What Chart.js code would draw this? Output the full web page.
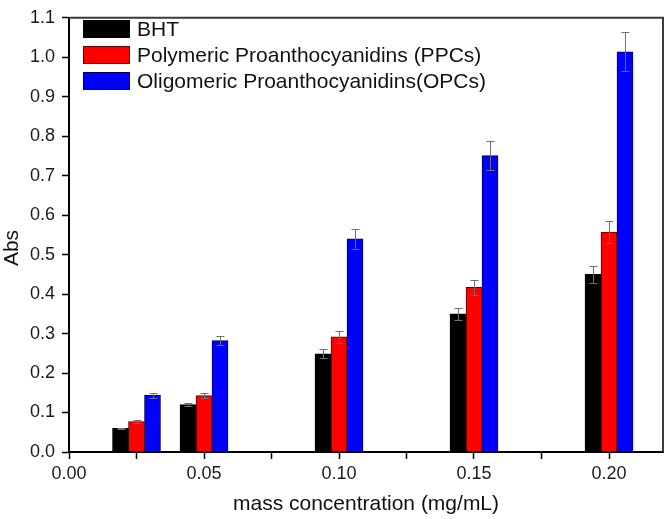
<!DOCTYPE html>
<html>
<head>
<meta charset="utf-8">
<script src="https://cdn.jsdelivr.net/npm/chart.js@4.4.0/dist/chart.umd.min.js"></script>
<style>
  html, body { margin: 0; padding: 0; background: #fff; }
  #wrap { width: 666px; height: 519px; position: relative; }
</style>
</head>
<body>
<div id="wrap"><canvas id="abs-chart"></canvas></div>
<script>
// mass concentration (mg/mL) of each group
const concentrations = [0.025, 0.05, 0.10, 0.15, 0.20];
const seriesNames = ['BHT', 'Polymeric Proanthocyanidins (PPCs)', 'Oligomeric Proanthocyanidins(OPCs)'];

const bhtValues = [0.060, 0.120, 0.249, 0.350, 0.450];
const ppcValues = [0.077, 0.143, 0.292, 0.417, 0.557];
const opcValues = [0.144, 0.282, 0.540, 0.751, 1.014];

const bhtErrors = [0.002, 0.004, 0.012, 0.016, 0.021];
const ppcErrors = [0.003, 0.007, 0.015, 0.020, 0.028];
const opcErrors = [0.006, 0.012, 0.026, 0.036, 0.050];

const xMajorTicks = [0, 0.05, 0.10, 0.15, 0.20];
const xMinorTicks = [0.025, 0.075, 0.125, 0.175];

const FONT = "'Liberation Sans', Arial, sans-serif";

function points(values) {
    return concentrations.map((x, i) => ({ x: x, y: values[i] }));
}

const errorBars = {
    id: 'errorBars',
    afterDatasetsDraw(chart) {
        const ctx = chart.ctx;
        const y = chart.scales.y;
        ctx.save();
        ctx.strokeStyle = '#707070';
        ctx.lineWidth = 1;
        chart.data.datasets.forEach((ds, di) => {
            chart.getDatasetMeta(di).data.forEach((bar, i) => {
                const v = ds.data[i].y, e = ds.errors[i];
                const top = Math.round(y.getPixelForValue(v + e)) + 0.5;
                const bot = Math.round(y.getPixelForValue(v - e)) + 0.5;
                const cx = Math.round(bar.x) + 0.5;
                ctx.beginPath();
                ctx.moveTo(cx, top); ctx.lineTo(cx, bot);
                ctx.moveTo(cx - 4, top); ctx.lineTo(cx + 4, top);
                ctx.moveTo(cx - 4, bot); ctx.lineTo(cx + 4, bot);
                ctx.stroke();
            });
        });
        ctx.restore();
    }
};

const frameAndLabels = {
    id: 'frameAndLabels',
    afterDraw(chart) {
        const ctx = chart.ctx;
        const a = chart.chartArea;
        ctx.save();
        // top and right frame lines
        ctx.strokeStyle = '#3a3a3a';
        ctx.lineWidth = 2;
        ctx.beginPath();
        ctx.moveTo(a.left, a.top); ctx.lineTo(a.right, a.top); ctx.lineTo(a.right, a.bottom);
        ctx.stroke();

        // y axis title
        ctx.fillStyle = '#111';
        ctx.font = '21px ' + FONT;
        ctx.textAlign = 'center';
        ctx.textBaseline = 'middle';
        ctx.translate(12, 248);
        ctx.rotate(-Math.PI / 2);
        ctx.fillText('Abs', 0, 0);
        ctx.restore();

        // legend
        ctx.save();
        ctx.font = '21px ' + FONT;
        ctx.textAlign = 'left';
        ctx.textBaseline = 'middle';
        chart.data.datasets.forEach((ds, i) => {
            const cy = 29 + i * 26;
            ctx.fillStyle = ds.backgroundColor;
            ctx.fillRect(83, cy - 9, 47, 18);
            ctx.strokeStyle = ds.borderColor;
            ctx.lineWidth = 1;
            ctx.strokeRect(83.5, cy - 8.5, 46, 17);
            ctx.fillStyle = '#111';
            ctx.fillText(ds.label, 137, cy + 1);
        });
        ctx.restore();
    }
};

const ctx = document.getElementById('abs-chart').getContext('2d');
const chart = new Chart(ctx, {
    type: 'bar',
    data: {
        datasets: [
            { label: seriesNames[0], data: points(bhtValues), errors: bhtErrors,
              backgroundColor: '#000000', borderColor: '#000000' },
            { label: seriesNames[1], data: points(ppcValues), errors: ppcErrors,
              backgroundColor: '#ff0000', borderColor: '#5a0000' },
            { label: seriesNames[2], data: points(opcValues), errors: opcErrors,
              backgroundColor: '#0000ff', borderColor: '#00005a' }
        ]
    },
    options: {
        responsive: true,
        maintainAspectRatio: false,
        animation: false,
        barThickness: 16,
        borderWidth: 1,
        layout: { padding: { top: 9, right: 3, left: 0, bottom: 0 } },
        plugins: {
            legend: { display: false },
            tooltip: { enabled: false }
        },
        scales: {
            x: {
                type: 'linear',
                min: 0,
                max: 0.22,
                offset: false,
                afterBuildTicks: s => {
                    s.ticks = xMajorTicks.concat(xMinorTicks).sort((p, q) => p - q).map(v => ({ value: v }));
                },
                afterFit: s => { s.height = 67; },
                grid: { offset: false, drawOnChartArea: false, drawTicks: true, tickLength: 7, tickColor: '#000', tickWidth: 1.5 },
                border: { color: '#000', width: 2 },
                ticks: {
                    autoSkip: false,
                    maxRotation: 0,
                    padding: 4,
                    color: '#1a1a1a',
                    font: { family: FONT, size: 18 },
                    callback: v => xMajorTicks.some(m => Math.abs(m - v) < 1e-9) ? v.toFixed(2) : ''
                },
                title: {
                    display: true,
                    text: 'mass concentration (mg/mL)',
                    color: '#111',
                    font: { family: FONT, size: 21 },
                    padding: { top: 0, bottom: 2 }
                }
            },
            y: {
                min: 0,
                max: 1.1,
                afterFit: s => { s.width = 69; },
                grid: { drawOnChartArea: false, drawTicks: true, tickLength: 7, tickColor: '#000', tickWidth: 1.5 },
                border: { color: '#000', width: 2 },
                ticks: {
                    stepSize: 0.1,
                    padding: 7,
                    color: '#1a1a1a',
                    font: { family: FONT, size: 18 },
                    callback: v => v.toFixed(1)
                }
            }
        }
    },
    plugins: [errorBars, frameAndLabels]
});
</script>
</body>
</html>
